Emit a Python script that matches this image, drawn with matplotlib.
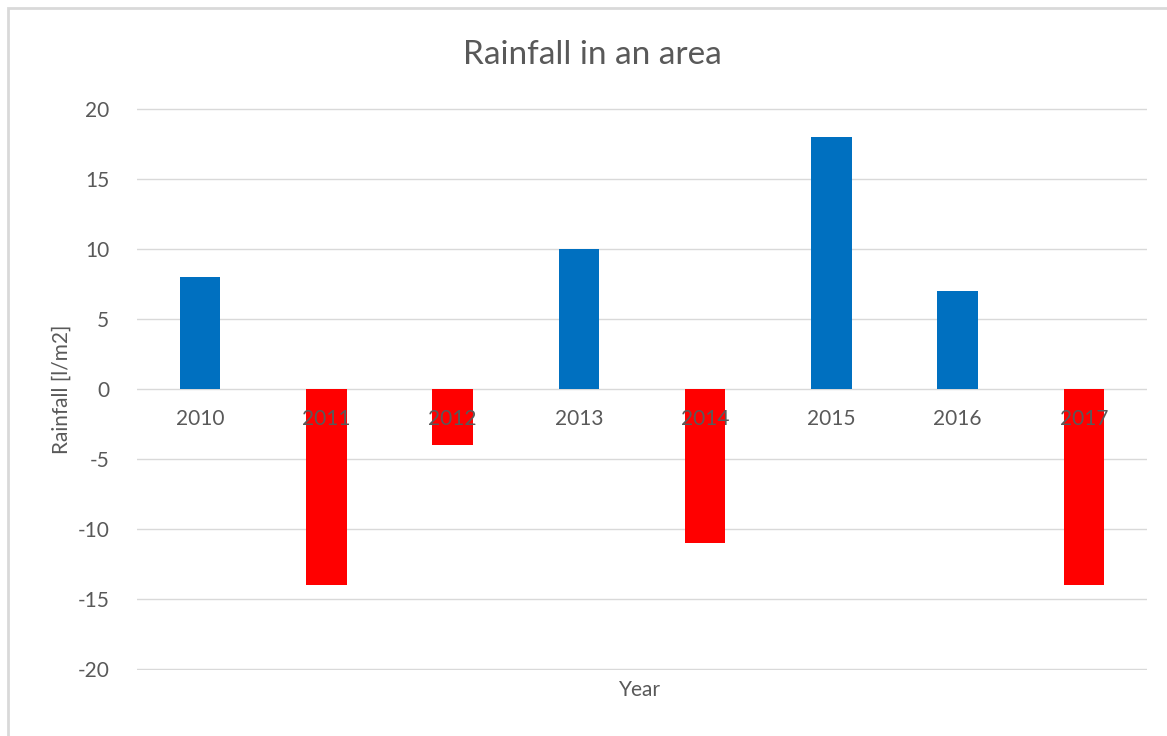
import matplotlib
matplotlib.use('Agg')
import matplotlib.pyplot as plt
from matplotlib.patches import Rectangle
from matplotlib.transforms import offset_copy

years = ["2010", "2011", "2012", "2013", "2014", "2015", "2016", "2017"]
rainfall = [8, -14, -4, 10, -11, 18, 7, -14]
y_ticks = [-20, -15, -10, -5, 0, 5, 10, 15, 20]

plt.rcParams['font.family'] = ['Lato', 'DejaVu Sans']
text_col = "#595959"
grid_col = "#d9d9d9"

W, H = 1167, 736
fig = plt.figure(figsize=(W / 100, H / 100), dpi=100)
ax = fig.add_axes([137 / W, 1 - 670 / H, (1147 - 137) / W, (670 - 108) / H])

colors = ["#0070C0" if v >= 0 else "#FF0000" for v in rainfall]
x = list(range(len(years)))
ax.bar(x, rainfall, width=0.32, color=colors, zorder=2)

ax.set_xlim(-0.5, len(years) - 0.5)
ax.set_ylim(-20.04, 20.04)
ax.set_yticks(y_ticks)
ax.set_yticklabels([str(t) for t in y_ticks])
ax.set_xticks([])
ax.grid(axis='y', color=grid_col, linewidth=1)
ax.set_axisbelow(True)

for s in ["top", "right", "left", "bottom"]:
    ax.spines[s].set_visible(False)

ax.tick_params(axis='y', length=0, pad=20, labelsize=15, labelcolor=text_col)

# category labels sit just under the zero line, drawn over the bars
lab_tr = offset_copy(ax.transData, fig=fig, x=0, y=-30, units='dots')
for xi, yr in zip(x, years):
    ax.text(xi, 0, yr, transform=lab_tr, ha="center", va="center",
            fontsize=15, color=text_col, zorder=5)

fig.text(62 / W, 1 - 389 / H, "Rainfall [l/m2]", rotation=90, ha="center",
         va="center", fontsize=15, color=text_col)
fig.text(640 / W, 1 - 690 / H, "Year", ha="center", va="center",
         fontsize=15, color=text_col)
fig.text(592 / W, 1 - 55 / H, "Rainfall in an area", ha="center", va="center",
         fontsize=24, color=text_col)

# chart frame
fig.patches.append(Rectangle((8 / W, -0.05), 1.2, 1 - 8 / H + 0.05,
                             transform=fig.transFigure, fill=False,
                             edgecolor=grid_col, linewidth=2))

fig.savefig("out.png", dpi=100, facecolor="white")
